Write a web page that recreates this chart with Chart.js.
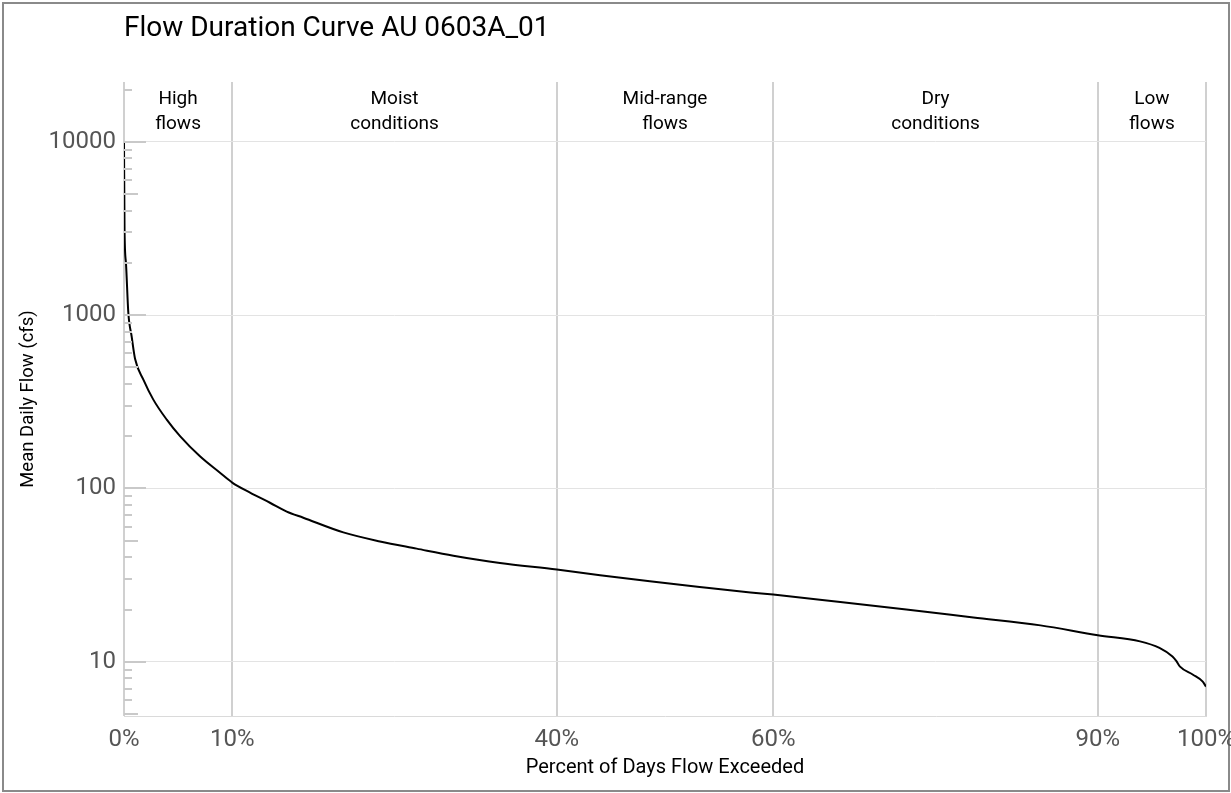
<!DOCTYPE html>
<html>
<head>
<meta charset="utf-8">
<title>Flow Duration Curve AU 0603A_01</title>
<script src="https://cdn.jsdelivr.net/npm/chart.js@4.4.1/dist/chart.umd.min.js"></script>
<style>
  html, body { margin: 0; padding: 0; background: #ffffff; }
  #wrap { width: 1231px; height: 793px; position: relative; }
  canvas { display: block; }
</style>
</head>
<body>
<div id="wrap"><canvas id="fdc" width="1231" height="793"></canvas></div>
<script>
// Percent of days a flow is equalled or exceeded
const exceedPct = [0, 0.05, 0.18, 0.4, 0.71, 1.02, 1.79, 2.71, 3.95, 5.18, 7.02, 8.87, 10,
  11.65, 13.49, 15.04, 16.57, 20.27, 23.66, 27.05, 30.44, 34.75, 40, 44, 48.6, 53.2, 57.9,
  60, 66.2, 72.3, 78.5, 84.7, 90, 93.9, 95.7, 96.9, 97.25, 97.6, 98.8, 99.7, 100];
// Mean daily flow (cfs) at each exceedance percent
const flowCfs = [10100, 3100, 2000, 1030, 750, 560, 424, 325, 249, 200, 153, 123, 108,
  94.5, 82.6, 73.4, 67.7, 55.7, 49.4, 44.9, 40.9, 37.1, 34.0, 31.5, 29.1, 27.0, 25.1,
  24.4, 22.1, 20.0, 18.0, 16.2, 14.2, 13.1, 12.0, 10.7, 10.1, 9.36, 8.41, 7.67, 7.18];

// Flow-zone boundaries and labels
const zoneBreaks = [0, 10, 40, 60, 90, 100];
const zoneCenters = [5, 25, 50, 75, 95];
const zoneLabels = [["High", "flows"], ["Moist", "conditions"], ["Mid-range", "flows"],
  ["Dry", "conditions"], ["Low", "flows"]];
const yTickValues = [10, 100, 1000, 10000];

const FONT = "Roboto, 'Liberation Sans', sans-serif";

// Light frame around the whole figure
const framePlugin = {
  id: 'frame',
  beforeDraw(chart) {
    const c = chart.ctx;
    c.save();
    c.fillStyle = '#ffffff';
    c.fillRect(0, 0, chart.width, chart.height);
    c.strokeStyle = '#8a8a8a';
    c.lineWidth = 2;
    c.strokeRect(3, 3, chart.width - 5, chart.height - 5);
    c.restore();
  }
};

// Log-scale tick marks along the left edge, drawn over the curve
const logTicksPlugin = {
  id: 'logTicks',
  afterDatasetsDraw(chart) {
    const y = chart.scales.y;
    const left = chart.chartArea.left;
    const c = chart.ctx;
    c.save();
    c.strokeStyle = '#c9c9c9';
    c.lineWidth = 2;
    for (let n = 0; n <= 4; n++) {
      for (let m = 1; m <= 9; m++) {
        const v = m * Math.pow(10, n);
        if (v < y.min || v > y.max) continue;
        const py = Math.round(y.getPixelForValue(v));
        const len = m === 1 ? 22 : (m === 5 ? 14 : 8);
        c.beginPath();
        c.moveTo(left, py);
        c.lineTo(left + len, py);
        c.stroke();
      }
    }
    c.restore();
  }
};

// Chart title and flow-zone captions
const textPlugin = {
  id: 'texts',
  afterDraw(chart) {
    const c = chart.ctx;
    const x = chart.scales.x;
    c.save();
    c.fillStyle = '#000000';
    c.textBaseline = 'middle';
    c.textAlign = 'left';
    c.font = '28px ' + FONT;
    c.fillText('Flow Duration Curve AU 0603A_01', chart.chartArea.left, 29);
    c.textAlign = 'center';
    c.font = '19px ' + FONT;
    zoneCenters.forEach((p, i) => {
      const px = x.getPixelForValue(p);
      c.fillText(zoneLabels[i][0], px, 99);
      c.fillText(zoneLabels[i][1], px, 124);
    });
    c.restore();
  }
};

const points = exceedPct.map((p, i) => ({ x: p, y: flowCfs[i] }));

new Chart(document.getElementById('fdc'), {
  type: 'line',
  data: {
    datasets: [{
      data: points,
      borderColor: '#000000',
      borderWidth: 2,
      pointRadius: 0,
      cubicInterpolationMode: 'monotone',
      fill: false
    }]
  },
  options: {
    responsive: false,
    animation: false,
    devicePixelRatio: 1,
    layout: { padding: { left: 0, right: 25, top: 82, bottom: 0 } },
    plugins: {
      legend: { display: false },
      tooltip: { enabled: false },
      title: { display: false }
    },
    scales: {
      x: {
        type: 'linear',
        min: 0,
        max: 100,
        afterBuildTicks(scale) { scale.ticks = zoneBreaks.map(v => ({ value: v })); },
        afterFit(scale) {
          scale.height = 77;
          scale.paddingLeft = 0;
          scale.paddingRight = 0;
        },
        grid: { color: '#d0d0d0', lineWidth: 2, drawTicks: false },
        border: { display: true, color: '#dadada', width: 1 },
        ticks: {
          padding: 10,
          color: '#555555',
          font: { family: FONT, size: 24 },
          maxRotation: 0,
          autoSkip: false,
          callback: v => v + '%'
        },
        title: {
          display: true,
          text: 'Percent of Days Flow Exceeded',
          color: '#000000',
          font: { family: FONT, size: 20 },
          padding: { top: 0, bottom: 13 }
        }
      },
      y: {
        type: 'logarithmic',
        min: 4.86,
        max: 22100,
        afterBuildTicks(scale) { scale.ticks = yTickValues.map(v => ({ value: v })); },
        afterFit(scale) {
          scale.width = 124;
          scale.paddingTop = 0;
          scale.paddingBottom = 0;
        },
        grid: { color: '#e3e3e3', lineWidth: 1, drawTicks: false },
        border: { display: false },
        ticks: {
          padding: 8,
          color: '#555555',
          font: { family: FONT, size: 24 },
          autoSkip: false,
          callback: v => String(v)
        },
        title: {
          display: true,
          text: 'Mean Daily Flow (cfs)',
          color: '#000000',
          font: { family: FONT, size: 18.5 },
          padding: { top: 17, bottom: 0 }
        }
      }
    }
  },
  plugins: [framePlugin, logTicksPlugin, textPlugin]
});
</script>
</body>
</html>
